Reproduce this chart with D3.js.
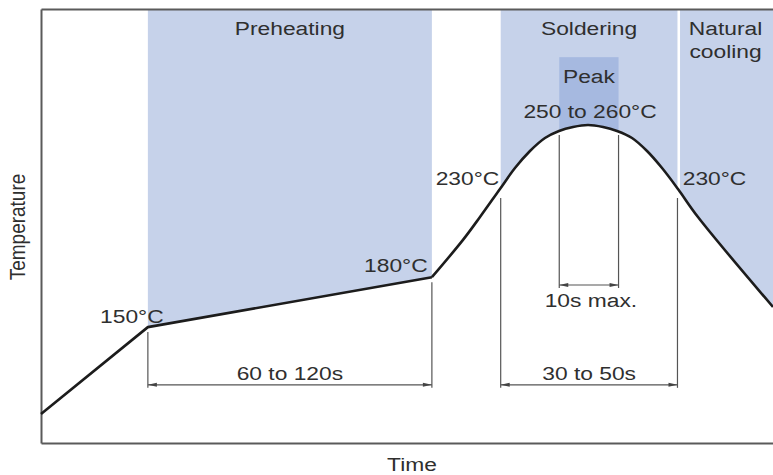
<!DOCTYPE html>
<html>
<head>
<meta charset="utf-8">
<script src="https://cdn.jsdelivr.net/npm/d3@7"></script>
<style>
  html, body { margin: 0; padding: 0; background: #fff; }
  svg { display: block; }
  text { font-family: "Liberation Sans", Arial, Helvetica, sans-serif; fill: #2f2f2f; }
</style>
</head>
<body>
<svg id="chart" width="773" height="475"></svg>
<script>
// ---- data (schematic units: time 0..100, temperature level 0..100) ----
const profileTime = [0, 14.6, 53.4, 57.65, 59.97, 62.70, 64.75, 66.80, 68.85, 70.77, 72.68, 74.73, 76.78, 78.69, 80.74, 82.79, 84.84, 87.02, 89.75, 100];
const profileTemp = [6.7, 26.7, 38.2, 46.8, 52.07, 58.53, 63.36, 67.28, 70.28, 71.89, 72.81, 73.27, 72.81, 71.89, 70.28, 67.28, 63.36, 58.53, 52.07, 31.34];

const phaseNames = ["Preheating", "Soldering", "Natural|cooling"];
const phaseStart = [14.6, 62.8, 87.3];
const phaseEnd   = [53.4, 86.95, 100];

const peakName = "Peak";
const peakStart = 70.8, peakEnd = 78.9, peakTop = 88.9;

const spanLabels = ["60 to 120s", "30 to 50s", "10s max."];
const spanFrom   = [14.6, 62.8, 70.8];
const spanTo     = [53.4, 86.95, 78.9];

const tempLabels = ["150°C", "180°C", "230°C", "230°C", "250 to 260°C"];
const tempLabelAt = [1, 2, 5, 17, 11];   // index into profile points

const xTitle = "Time", yTitle = "Temperature";

// ---- scales ----
const x = d3.scaleLinear().domain([0, 100]).range([41, 773]);
const y = d3.scaleLinear().domain([0, 100]).range([443, 9]);

const svg = d3.select("#chart");
const pts = profileTime.map((t, i) => [t, profileTemp[i]]);
const linPts = pts.slice(0, 3), smoothPts = pts.slice(2);
const smoothCurve = d3.curveCatmullRom.alpha(0.5);

// clip: region above the curve
const defs = svg.append("defs");
const clip = defs.append("clipPath").attr("id", "above");
const areaLin = d3.area().x(d => x(d[0])).y0(y(100)).y1(d => y(d[1]));
const areaSm = d3.area().curve(smoothCurve).x(d => x(d[0])).y0(y(100)).y1(d => y(d[1]));
clip.append("path").attr("d", areaLin(linPts));
clip.append("path").attr("d", areaSm(smoothPts));

const shade = svg.append("g").attr("clip-path", "url(#above)");
phaseNames.forEach((n, i) => {
  shade.append("rect")
    .attr("x", x(phaseStart[i])).attr("y", y(100))
    .attr("width", x(phaseEnd[i]) - x(phaseStart[i]))
    .attr("height", y(0) - y(100))
    .attr("fill", "#c6d2ea");
});
shade.append("rect")
  .attr("x", x(peakStart)).attr("y", y(peakTop))
  .attr("width", x(peakEnd) - x(peakStart))
  .attr("height", y(0) - y(peakTop))
  .attr("fill", "#a6b9e0");

// ---- frame via axes ----
const frameStyle = g => g.select(".domain").attr("stroke", "#5a5a5a").attr("stroke-width", 2);
svg.append("g").attr("transform", `translate(0,${y(0)})`)
  .call(d3.axisBottom(x).tickValues([]).tickSizeOuter(0)).call(frameStyle);
svg.append("g").attr("transform", `translate(0,${y(100)})`)
  .call(d3.axisTop(x).tickValues([]).tickSizeOuter(0)).call(frameStyle);
svg.append("g").attr("transform", `translate(${x(0)},0)`)
  .call(d3.axisLeft(y).tickValues([]).tickSizeOuter(0)).call(frameStyle);

// ---- extension lines & dimension arrows ----
const guide = svg.append("g").attr("stroke", "#555").attr("stroke-width", 1.2).attr("fill", "none");
const tempAt = t => {
  let best = 0;
  profileTime.forEach((v, i) => { if (Math.abs(v - t) < Math.abs(profileTime[best] - t)) best = i; });
  return profileTemp[best];
};
const spanLevel = [13.4, 13.4, 36.4];
const gapBelow = [5, 9, 4];
const labelDy = [-5, -5, 22];
const arrows = svg.append("g").attr("fill", "#444");
spanLabels.forEach((lab, i) => {
  const yl = y(spanLevel[i]);
  [spanFrom[i], spanTo[i]].forEach(t => {
    guide.append("line").attr("x1", x(t)).attr("x2", x(t))
      .attr("y1", y(tempAt(t)) + gapBelow[i]).attr("y2", yl + 3);
  });
  const xa = x(spanFrom[i]), xb = x(spanTo[i]);
  guide.append("line").attr("x1", xa).attr("x2", xb).attr("y1", yl).attr("y2", yl);
  arrows.append("path").attr("d", `M${xa},${yl} l9,-2 l0,4 z`);
  arrows.append("path").attr("d", `M${xb},${yl} l-9,-2 l0,4 z`);
  svg.append("text")
    .attr("transform", `translate(${(xa + xb) / 2 + (i === 2 ? 2 : 0)},${yl + labelDy[i]}) scale(1.2,1)`)
    .attr("text-anchor", "middle").attr("font-size", 19).text(lab);
});

// ---- curve ----
const lineLin = d3.line().x(d => x(d[0])).y(d => y(d[1]));
const lineSm = d3.line().curve(smoothCurve).x(d => x(d[0])).y(d => y(d[1]));
const curveG = svg.append("g").attr("fill", "none").attr("stroke", "#1c1c1c")
  .attr("stroke-width", 2.6).attr("stroke-linejoin", "round");
curveG.append("path").attr("d", lineLin(linPts));
curveG.append("path").attr("d", lineSm(smoothPts));

// ---- phase titles ----
phaseNames.forEach((n, i) => {
  const cx = (x(phaseStart[i]) + x(phaseEnd[i])) / 2 + (i === 2 ? -1 : 0);
  n.split("|").forEach((ln, k) => {
    svg.append("text")
      .attr("transform", `translate(${cx},${35 + k * 23}) scale(1.2,1)`)
      .attr("text-anchor", "middle").attr("font-size", 19).text(ln);
  });
});
svg.append("text")
  .attr("transform", `translate(${(x(peakStart) + x(peakEnd)) / 2},83) scale(1.2,1)`)
  .attr("text-anchor", "middle").attr("font-size", 19).text(peakName);

// ---- temperature labels ----
const labOff = [[-16, -4], [-36, -5], [-32.5, -4], [36.5, -4], [2, -7]];
tempLabels.forEach((lab, i) => {
  const p = pts[tempLabelAt[i]];
  svg.append("text")
    .attr("transform", `translate(${x(p[0]) + labOff[i][0]},${y(p[1]) + labOff[i][1]}) scale(1.2,1)`)
    .attr("text-anchor", "middle").attr("font-size", 19).text(lab);
});

// ---- axis titles ----
svg.append("text")
  .attr("transform", `translate(412,471) scale(1.2,1)`)
  .attr("text-anchor", "middle").attr("font-size", 19).text(xTitle);
svg.append("text")
  .attr("transform", `translate(25,227) rotate(-90) scale(1,1.2)`)
  .attr("text-anchor", "middle").attr("font-size", 19).text(yTitle);
</script>
</body>
</html>
